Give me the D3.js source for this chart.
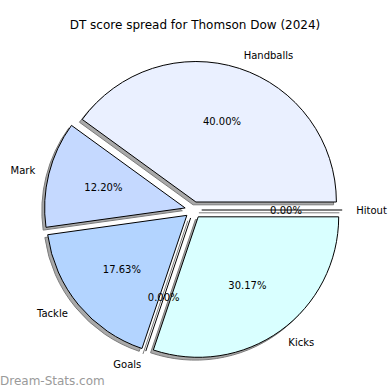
<!DOCTYPE html>
<html><head><meta charset="utf-8">
<script src="https://cdn.jsdelivr.net/npm/d3@7"></script>
<style>html,body{margin:0;padding:0;background:#fff;}svg{display:block;font-family:"DejaVu Sans",sans-serif;}</style>
</head><body>
<svg id="c" width="390" height="390"></svg>
<script>
const categories = ["Handballs", "Mark", "Tackle", "Goals", "Kicks", "Hitout"];
const values = [40.00, 12.20, 17.63, 0, 30.17, 0];
const colors = ["#eaf0ff", "#c5d9ff", "#b3d4ff", "#c0e0ff", "#d9ffff", "#e0e8ff"];
const title = "DT score spread for Thomson Dow (2024)";

const W = 390, H = 390;
const cx = 193.3, cy = 210, R = 140.5;
const explode = 8.4, shadowOff = 2.8;
const labelDist = 1.1 * R, pctDist = 0.6 * R;

const svg = d3.select("#c");
svg.append("text").attr("x", 195).attr("y", 25).attr("text-anchor", "middle")
  .attr("dominant-baseline", "central").attr("font-size", 12).attr("fill", "#000").text(title);

const data = categories.map((c, i) => ({ name: c, value: values[i], color: colors[i] }));
const pie = d3.pie().value(d => d.value).sort(null)
  .startAngle(Math.PI / 2).endAngle(Math.PI / 2 - 2 * Math.PI);
const arcs = pie(data);
const arc = d3.arc().innerRadius(0).outerRadius(R);

arcs.forEach(a => {
  const m = (a.startAngle + a.endAngle) / 2;
  a.dx = Math.sin(m); a.dy = -Math.cos(m);
  a.ox = cx + explode * a.dx; a.oy = cy + explode * a.dy;
});

function drawShape(g, a, fill, stroke) {
  if (a.value > 0) {
    g.append("path").attr("d", arc(a)).attr("fill", fill).attr("stroke", stroke)
      .attr("stroke-width", 1).attr("stroke-linejoin", "round");
  } else {
    g.append("line").attr("x1", 0).attr("y1", 0)
      .attr("x2", R * a.dx).attr("y2", R * a.dy)
      .attr("stroke", stroke).attr("stroke-width", 1);
  }
}

// shadows
arcs.forEach(a => {
  const g = svg.append("g").attr("transform", `translate(${a.ox - shadowOff},${a.oy + shadowOff})`);
  drawShape(g, a, "#a9a9a9", "#7c7c7c");
});
// wedges
arcs.forEach(a => {
  const g = svg.append("g").attr("transform", `translate(${a.ox},${a.oy})`);
  drawShape(g, a, a.data.color, "#000");
});
// labels
arcs.forEach(a => {
  const lx = a.ox + labelDist * a.dx, ly = a.oy + labelDist * a.dy;
  svg.append("text").attr("x", lx).attr("y", ly)
    .attr("text-anchor", a.dx > 0 ? "start" : "end")
    .attr("dominant-baseline", "central").attr("font-size", 10).attr("fill", "#000")
    .text(a.data.name);
  const px = a.ox + pctDist * a.dx, py = a.oy + pctDist * a.dy;
  svg.append("text").attr("x", px).attr("y", py).attr("text-anchor", "middle")
    .attr("dominant-baseline", "central").attr("font-size", 10).attr("fill", "#000")
    .text(a.data.value.toFixed(2) + "%");
});
svg.append("text").attr("x", 0).attr("y", 381).attr("dominant-baseline", "central")
  .attr("font-size", 12).attr("fill", "#9a9a9a").text("Dream-Stats.com");
</script>
</body></html>
